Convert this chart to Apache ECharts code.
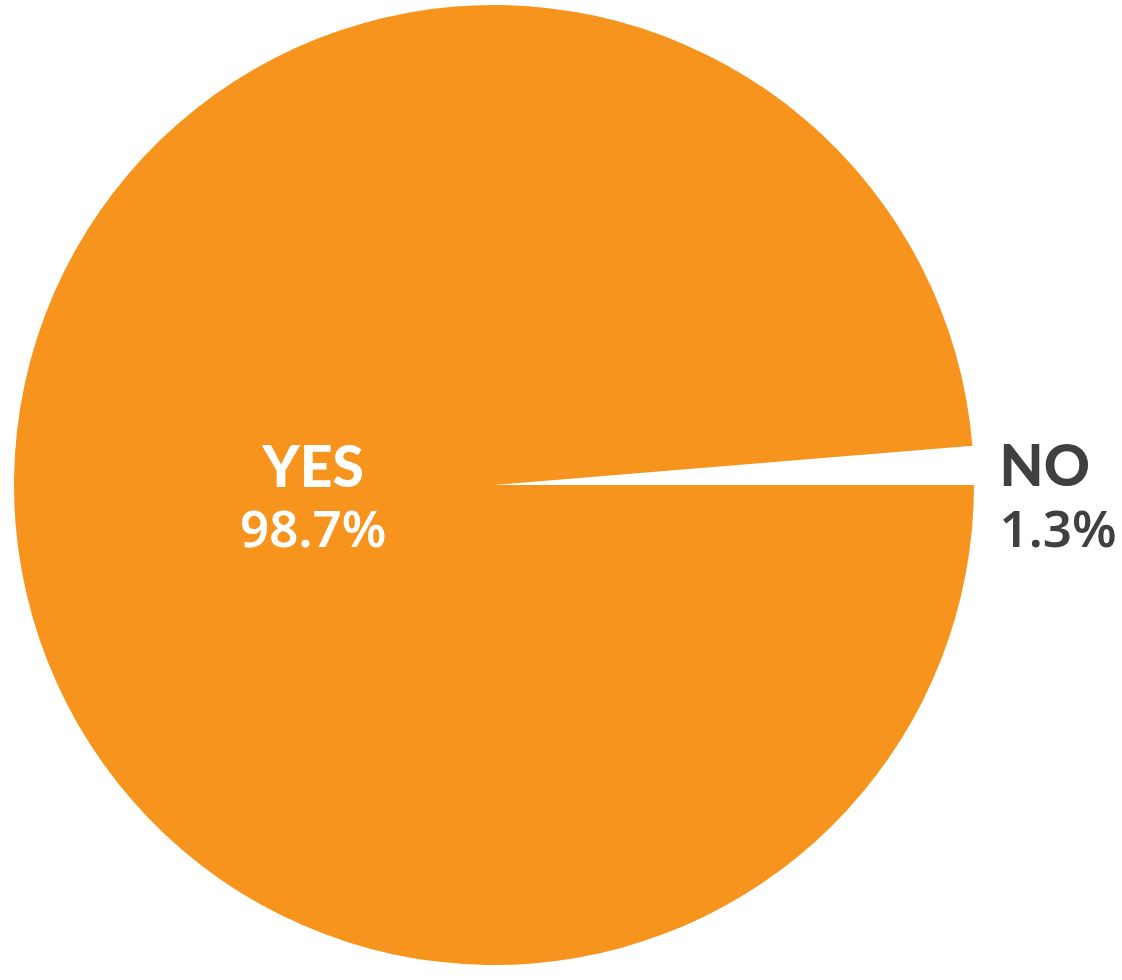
<!DOCTYPE html>
<html>
<head>
<meta charset="utf-8">
<script src="https://cdn.jsdelivr.net/npm/echarts@6/dist/echarts.min.js"></script>
<style>
html,body{margin:0;padding:0;background:#fff;}
#chart{width:1122px;height:980px;}
</style>
</head>
<body>
<div id="chart"></div>
<script>
var categories = ['NO', 'YES'];
var values = [1.3, 98.7];
var sliceColors = ['rgba(255,255,255,0)', '#F7941D'];
var labelColors = ['#404040', '#FFFFFF'];

var chart = echarts.init(document.getElementById('chart'));

var mainData = categories.map(function (c, i) {
  return {
    name: c,
    value: values[i],
    itemStyle: { color: sliceColors[i] },
    label: i === 0 ? { show: true, position: 'outside' } : { show: false },
    labelLine: { show: false }
  };
});
var innerData = categories.map(function (c, i) {
  return {
    name: c,
    value: values[i],
    itemStyle: { color: 'rgba(0,0,0,0)' },
    label: { show: i === 1, position: 'inside' }
  };
});

function richFor(color, align) {
  return {
    n: { fontFamily: 'Lato', fontWeight: 900, fontSize: 57, color: color, lineHeight: 64, align: align },
    v: { fontFamily: 'Noto Sans', fontWeight: 600, fontSize: 51, color: color, lineHeight: 64, align: align }
  };
}
function fmt(p) { return '{n|' + p.name + '}\n{v|' + p.value + '%}'; }

chart.setOption({
  animation: false,
  series: [
    {
      type: 'pie',
      center: [494, 485],
      radius: [0, 480],
      clockwise: false,
      startAngle: 0,
      silent: true,
      data: mainData,
      label: { formatter: fmt, rich: richFor(labelColors[0], 'left'), padding: [70, 0, 0, 0], overflow: 'none' },
      labelLine: { show: false, length: 8, length2: 13 }
    },
    {
      type: 'pie',
      center: [494, 485],
      radius: [0, 356],
      clockwise: false,
      startAngle: 0,
      silent: true,
      data: innerData,
      label: { formatter: fmt, rich: richFor(labelColors[1], 'center'), padding: [16, 0, 0, 0] },
      labelLine: { show: false }
    }
  ]
});
</script>
</body>
</html>
